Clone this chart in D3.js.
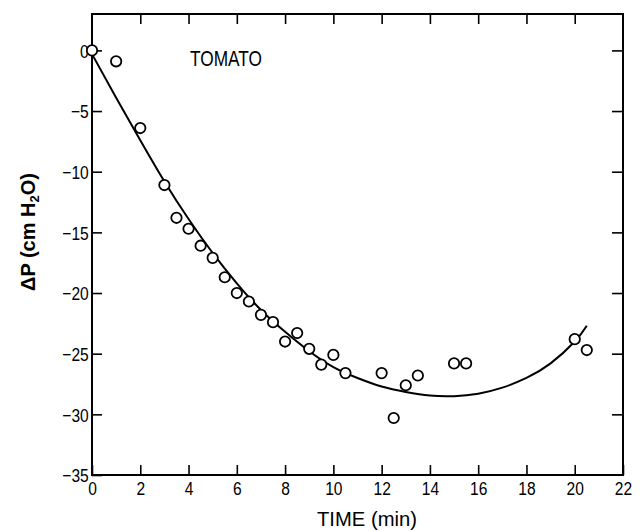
<!DOCTYPE html>
<html>
<head>
<meta charset="utf-8">
<script src="https://cdn.jsdelivr.net/npm/d3@7"></script>
<style>
  html, body { margin: 0; padding: 0; background: #fff; }
  svg { display: block; }
  .lbl { font-family: "Liberation Sans", Arial, Helvetica, sans-serif; fill: #000; }
</style>
</head>
<body>
<svg id="chart" width="643" height="531"></svg>
<script>
// Observed data (time in min, ΔP in cm H2O)
const timeMin = [0, 1, 2, 3, 3.5, 4, 4.5, 5, 5.5, 6, 6.5, 7, 7.5, 8, 8.5, 9, 9.5, 10, 10.5, 12, 12.5, 13, 13.5, 15, 15.5, 20, 20.5];
const deltaP  = [0, -0.9, -6.4, -11.1, -13.8, -14.7, -16.1, -17.1, -18.7, -20.0, -20.7, -21.8, -22.4, -24.0, -23.3, -24.6, -25.9, -25.1, -26.6, -26.6, -30.3, -27.6, -26.8, -25.8, -25.8, -23.8, -24.7];

// Fitted curve, values
const fitTime = [0, 1, 2, 3, 4, 5, 6, 7, 8, 9, 10, 11, 12, 13, 14, 15, 16, 17, 18, 19, 20, 20.5];
const fitP    = [-0.3, -3.9, -7.4, -10.8, -13.9, -16.7, -19.2, -21.4, -23.2, -24.8, -26.1, -27.0, -27.7, -28.15, -28.45, -28.5, -28.3, -27.8, -27.0, -25.8, -24.0, -22.7];

// Axis ticks
const xTicks = [0, 2, 4, 6, 8, 10, 12, 14, 16, 18, 20, 22];
const yTicks = [0, -5, -10, -15, -20, -25, -30, -35];

const xDomain = [0, 22];
const yDomain = [-35, 3];

const plotTitle = "TOMATO";
const xTitle = "TIME  (min)";

const W = 643, H = 531;
const m = { left: 92, right: 20, top: 14, bottom: 56 };

const svg = d3.select("#chart");
const x = d3.scaleLinear().domain(xDomain).range([m.left, W - m.right]);
const y = d3.scaleLinear().domain(yDomain).range([H - m.bottom, m.top]);

const fmt = d => (d < 0 ? "\u2212" + Math.abs(d) : String(d));

// bottom axis
const gB = svg.append("g").attr("transform", `translate(0,${H - m.bottom})`)
  .call(d3.axisBottom(x).tickValues(xTicks).tickSize(-10).tickSizeOuter(0).tickPadding(6).tickFormat(fmt));
// left axis
const gL = svg.append("g").attr("transform", `translate(${m.left},0)`)
  .call(d3.axisLeft(y).tickValues(yTicks).tickSize(-10).tickSizeOuter(0).tickPadding(4).tickFormat(fmt));
// top axis (ticks only)
const gT = svg.append("g").attr("transform", `translate(0,${m.top})`)
  .call(d3.axisTop(x).tickValues(xTicks.slice(1, -1)).tickSize(-10).tickSizeOuter(0).tickFormat(""));
// right axis (ticks only)
const gR = svg.append("g").attr("transform", `translate(${W - m.right},0)`)
  .call(d3.axisRight(y).tickValues(yTicks.slice(0, -1)).tickSize(-11).tickSizeOuter(0).tickFormat(""));

[gB, gL, gT, gR].forEach(g => {
  g.select(".domain").remove();
  g.selectAll(".tick line").attr("stroke", "#000").attr("stroke-width", 1.6);
  g.selectAll(".tick text").attr("class", "lbl").attr("font-size", 19).attr("font-family", null)
    .attr("transform", "scale(0.82,1)");
});
gL.selectAll(".tick text").attr("dy", "0.36em");
gB.selectAll(".tick text").attr("dy", "0.74em");

// frame
svg.append("rect")
  .attr("x", x(xDomain[0])).attr("y", y(yDomain[1]))
  .attr("width", x(xDomain[1]) - x(xDomain[0]))
  .attr("height", y(yDomain[0]) - y(yDomain[1]))
  .attr("fill", "none").attr("stroke", "#000").attr("stroke-width", 2);

// fitted curve
const line = d3.line().x((d, i) => x(fitTime[i])).y(d => y(d)).curve(d3.curveNatural);
svg.append("path").datum(fitP).attr("d", line)
  .attr("fill", "none").attr("stroke", "#000").attr("stroke-width", 2);

// points
svg.append("g").selectAll("circle").data(deltaP).join("circle")
  .attr("cx", (d, i) => x(timeMin[i])).attr("cy", d => y(d)).attr("r", 5.2)
  .attr("fill", "#fff").attr("stroke", "#000").attr("stroke-width", 1.8);

// plot label
svg.append("text").attr("class", "lbl").attr("x", 190).attr("y", 66)
  .attr("font-size", 22).attr("textLength", 72).attr("lengthAdjust", "spacingAndGlyphs")
  .text(plotTitle);

// x title
svg.append("text").attr("class", "lbl").attr("x", 367).attr("y", 526)
  .attr("text-anchor", "middle").attr("font-size", 21)
  .attr("textLength", 100).attr("lengthAdjust", "spacingAndGlyphs").text(xTitle);

// y title
const yt = svg.append("text").attr("class", "lbl")
  .attr("transform", "translate(35,232) rotate(-90)")
  .attr("text-anchor", "middle").attr("font-size", 20).attr("font-weight", "bold");
yt.append("tspan").text("ΔP  (cm H");
yt.append("tspan").attr("font-size", 13).attr("dy", 4).text("2");
yt.append("tspan").attr("dy", -4).text("O)");
</script>
</body>
</html>
